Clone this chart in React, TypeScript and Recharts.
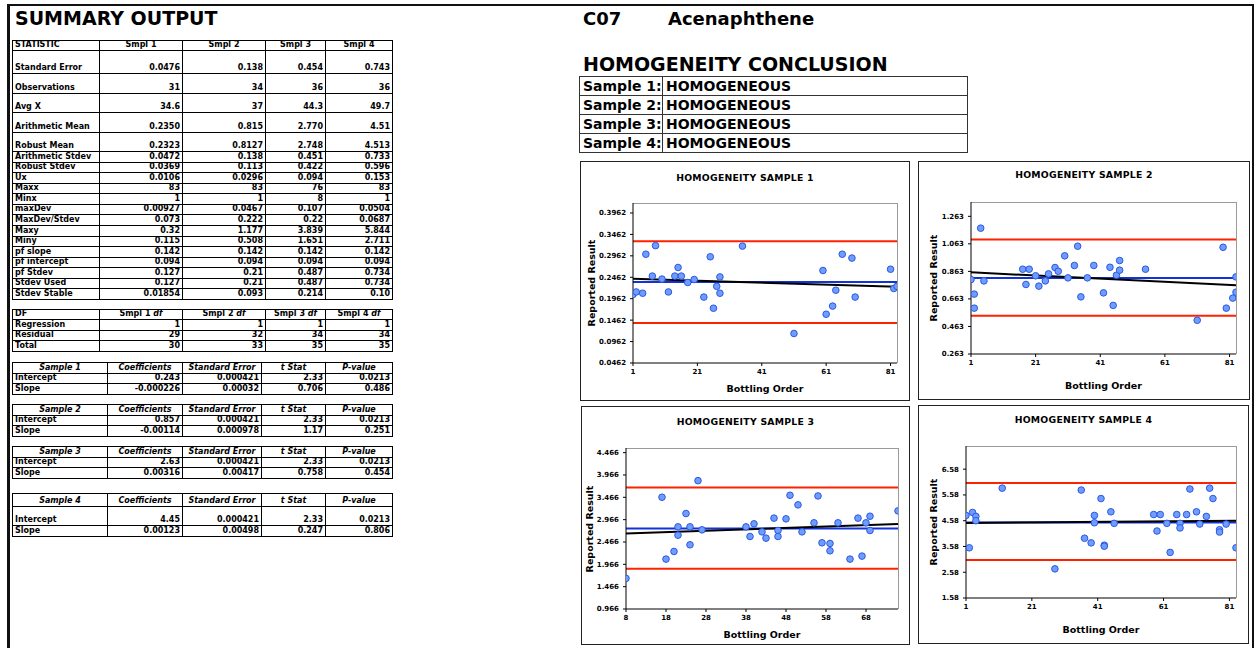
import React from 'react';
import { ScatterChart, Scatter, XAxis, YAxis, ReferenceLine } from 'recharts';

const FONT = 'Verdana, "DejaVu Sans", sans-serif';

// ---------- Sample 1 ----------
const s1X = [1, 2, 4, 5, 7, 8, 10, 12, 14, 15, 16, 18, 20, 23, 25, 26, 27, 28, 28, 35, 51, 60, 61, 63, 64, 66, 69, 70, 81, 82, 83];
const s1Y = [0.206, 0.212, 0.209, 0.3, 0.249, 0.32, 0.242, 0.212, 0.249, 0.269, 0.249, 0.234, 0.241, 0.2, 0.294, 0.174, 0.225, 0.247, 0.209, 0.319, 0.115, 0.262, 0.16, 0.179, 0.216, 0.3, 0.291, 0.2, 0.265, 0.22, 0.225];
const s1Limits = [0.1397, 0.3303];
const s1Mean = 0.235;
const s1Trend = [0.2428, 0.2242];
const s1XDomain = [1, 83];
const s1YDomain = [0.0462, 0.4195];
const s1XTicks = [1, 21, 41, 61, 81];
const s1YTicks = [0.0462, 0.0962, 0.1462, 0.1962, 0.2462, 0.2962, 0.3462, 0.3962];

// ---------- Sample 2 ----------
const s2X = [1, 2, 2, 4, 5, 17, 18, 19, 21, 22, 24, 25, 27, 28, 30, 31, 33, 34, 35, 37, 39, 42, 44, 45, 46, 47, 47, 55, 71, 79, 80, 82, 83, 83];
const s2Y = [0.804, 0.698, 0.596, 1.177, 0.794, 0.879, 0.768, 0.879, 0.831, 0.756, 0.794, 0.845, 0.891, 0.864, 0.976, 0.816, 0.906, 1.046, 0.678, 0.816, 0.906, 0.707, 0.893, 0.616, 0.835, 0.942, 0.872, 0.879, 0.508, 1.038, 0.596, 0.669, 0.823, 0.712];
const s2Limits = [0.541, 1.094];
const s2Mean = 0.815;
const s2Trend = [0.856, 0.762];
const s2XDomain = [1, 83];
const s2YDomain = [0.263, 1.367];
const s2XTicks = [1, 21, 41, 61, 81];
const s2YTicks = [0.263, 0.463, 0.663, 0.863, 1.063, 1.263];

// ---------- Sample 3 ----------
const s3X = [8, 17, 18, 20, 21, 21, 23, 24, 24, 26, 27, 38, 39, 40, 42, 43, 45, 46, 46, 48, 49, 51, 52, 55, 56, 57, 59, 59, 61, 64, 66, 67, 68, 69, 69, 76];
const s3Y = [1.651, 3.468, 2.083, 2.254, 2.619, 2.805, 3.103, 2.805, 2.403, 3.839, 2.738, 2.805, 2.589, 2.872, 2.693, 2.552, 3.0, 2.723, 2.589, 2.984, 3.512, 3.297, 2.693, 2.895, 3.497, 2.448, 2.433, 2.269, 2.895, 2.083, 3.0, 2.15, 2.895, 3.043, 2.723, 3.163];
const s3Limits = [1.867, 3.684];
const s3Mean = 2.77;
const s3Trend = [2.655, 2.87];
const s3XDomain = [8, 76];
const s3YDomain = [0.966, 4.57];
const s3XTicks = [8, 18, 28, 38, 48, 58, 68];
const s3YTicks = [0.966, 1.466, 1.966, 2.466, 2.966, 3.466, 3.966, 4.466];

// ---------- Sample 4 ----------
const s4X = [1, 2, 3, 4, 4, 12, 28, 36, 37, 39, 40, 40, 42, 43, 43, 45, 46, 58, 59, 60, 62, 63, 65, 66, 66, 68, 69, 71, 72, 74, 75, 76, 78, 78, 80, 83];
const s4Y = [4.785, 3.529, 4.9, 4.747, 4.58, 5.844, 2.711, 5.77, 3.9, 3.72, 4.785, 4.5, 5.44, 3.63, 3.59, 4.926, 4.477, 4.82, 4.18, 4.82, 4.477, 3.35, 4.82, 4.477, 4.3, 4.82, 5.81, 4.926, 4.45, 4.747, 5.844, 5.44, 4.23, 4.14, 4.45, 3.529];
const s4Limits = [3.054, 6.04];
const s4Mean = 4.515;
const s4Trend = [4.49, 4.58];
const s4XDomain = [1, 83];
const s4YDomain = [1.58, 7.48];
const s4XTicks = [1, 21, 41, 61, 81];
const s4YTicks = [1.58, 2.58, 3.58, 4.58, 5.58, 6.58];

// ---------- Summary tables ----------
const statHeader = ['STATISTIC', 'Smpl 1', 'Smpl 2', 'Smpl 3', 'Smpl 4'];
const statLabels = ['Standard Error', 'Observations', 'Avg X', 'Arithmetic Mean', 'Robust Mean', 'Arithmetic Stdev', 'Robust Stdev', 'Ux', 'Maxx', 'Minx', 'maxDev', 'MaxDev/Stdev', 'Maxy', 'Miny', 'pf slope', 'pf intercept', 'pf Stdev', 'Stdev Used', 'Stdev Stable'];
const stat1 = ['0.0476', '31', '34.6', '0.2350', '0.2323', '0.0472', '0.0369', '0.0106', '83', '1', '0.00927', '0.073', '0.32', '0.115', '0.142', '0.094', '0.127', '0.127', '0.01854'];
const stat2 = ['0.138', '34', '37', '0.815', '0.8127', '0.138', '0.113', '0.0296', '83', '1', '0.0467', '0.222', '1.177', '0.508', '0.142', '0.094', '0.21', '0.21', '0.093'];
const stat3 = ['0.454', '36', '44.3', '2.770', '2.748', '0.451', '0.422', '0.094', '76', '8', '0.107', '0.22', '3.839', '1.651', '0.142', '0.094', '0.487', '0.487', '0.214'];
const stat4 = ['0.743', '36', '49.7', '4.51', '4.513', '0.733', '0.596', '0.153', '83', '1', '0.0504', '0.0687', '5.844', '2.711', '0.142', '0.094', '0.734', '0.734', '0.10'];

const dfLabels = ['Regression', 'Residual', 'Total'];
const df1 = ['1', '29', '30'];
const df2 = ['1', '32', '33'];
const df3 = ['1', '34', '35'];
const df4 = ['1', '34', '35'];

const regHeader = ['Coefficients', 'Standard Error', 't Stat', 'P-value'];
const reg1Intercept = ['0.243', '0.000421', '2.33', '0.0213'];
const reg1Slope = ['-0.000226', '0.00032', '0.706', '0.486'];
const reg2Intercept = ['0.857', '0.000421', '2.33', '0.0213'];
const reg2Slope = ['-0.00114', '0.000978', '1.17', '0.251'];
const reg3Intercept = ['2.63', '0.000421', '2.33', '0.0213'];
const reg3Slope = ['0.00316', '0.00417', '0.758', '0.454'];
const reg4Intercept = ['4.45', '0.000421', '2.33', '0.0213'];
const reg4Slope = ['0.00123', '0.00498', '0.247', '0.806'];

const conclusionLabels = ['Sample 1:', 'Sample 2:', 'Sample 3:', 'Sample 4:'];
const conclusionValues = ['HOMOGENEOUS', 'HOMOGENEOUS', 'HOMOGENEOUS', 'HOMOGENEOUS'];

// ---------- generic cell grid ----------
type Cell = { t: React.ReactNode; align?: 'left' | 'center' | 'right'; italic?: boolean };
type Row = { h: number; cells: Cell[] };

function Grid({ cols, top, rows, fontSize = 8, vAlign = 'flex-end', pad = '0 2px 1px 2px', color = '#000' }: any) {
  const out: React.ReactNode[] = [];
  let y = top;
  rows.forEach((r: Row, ri: number) => {
    const y0 = Math.round(y);
    const y1 = Math.round(y + r.h);
    r.cells.forEach((c: Cell, ci: number) => {
      const x0 = cols[ci];
      const x1 = cols[ci + 1];
      out.push(
        <div
          key={ri + '-' + ci}
          style={{
            position: 'absolute',
            left: x0,
            top: y0,
            width: x1 - x0 + 1,
            height: y1 - y0 + 1,
            border: '1px solid ' + color,
            boxSizing: 'border-box',
            display: 'flex',
            alignItems: vAlign,
            justifyContent: c.align === 'left' ? 'flex-start' : c.align === 'center' ? 'center' : 'flex-end',
            padding: pad,
            fontFamily: FONT,
            fontWeight: 'bold',
            fontStyle: c.italic ? 'italic' : 'normal',
            fontSize,
            lineHeight: 1,
            whiteSpace: 'nowrap',
            overflow: 'hidden',
            color: '#000',
          }}
        >
          {c.t}
        </div>
      );
    });
    y += r.h;
  });
  return <>{out}</>;
}

const sumCols = [12, 99, 182, 265, 325, 392];
const regCols = [12, 107, 182, 261, 325, 392];

function summaryRows(): Row[] {
  const hs = [23, 20, 19, 20, 19];
  const rows: Row[] = [{ h: 10, cells: statHeader.map((t, i) => ({ t, align: i === 0 ? 'left' : 'center' })) }];
  statLabels.forEach((lab, i) => {
    rows.push({
      h: i < hs.length ? hs[i] : 10.57,
      cells: [{ t: lab, align: 'left' }, { t: stat1[i] }, { t: stat2[i] }, { t: stat3[i] }, { t: stat4[i] }],
    });
  });
  return rows;
}

function dfRows(): Row[] {
  const hdr = (n: number) => (
    <span>
      Smpl {n} <i>df</i>
    </span>
  );
  const rows: Row[] = [
    { h: 10, cells: [{ t: 'DF', align: 'left' }, { t: hdr(1), align: 'center' }, { t: hdr(2), align: 'center' }, { t: hdr(3), align: 'center' }, { t: hdr(4), align: 'center' }] },
  ];
  dfLabels.forEach((lab, i) => {
    rows.push({ h: 10.5, cells: [{ t: lab, align: 'left' }, { t: df1[i] }, { t: df2[i] }, { t: df3[i] }, { t: df4[i] }] });
  });
  return rows;
}

function regRows(name: string, inter: string[], slope: string[], hs: number[]): Row[] {
  return [
    { h: hs[0], cells: [{ t: name, align: 'center', italic: true }, ...regHeader.map((t) => ({ t, align: 'center' as const, italic: true }))] },
    { h: hs[1], cells: [{ t: 'Intercept', align: 'left' }, ...inter.map((t) => ({ t }))] },
    { h: hs[2], cells: [{ t: 'Slope', align: 'left' }, ...slope.map((t) => ({ t }))] },
  ];
}

// ---------- chart ----------
const Dot = (p: any) => {
  if (p.cx == null || p.cy == null) return null;
  return <circle cx={p.cx} cy={p.cy} r={3.3} fill="#6f9dff" stroke="#2b58e0" strokeWidth={1} />;
};

const absText = (x: number, y: number, text: string, size: number, extra: any = {}) => (
  <div
    style={{
      position: 'absolute',
      left: x,
      top: y,
      transform: 'translate(-50%, -50%)' + (extra.rotate ? ' rotate(-90deg)' : ''),
      fontFamily: FONT,
      fontWeight: 'bold',
      fontSize: size,
      lineHeight: 1,
      whiteSpace: 'nowrap',
      color: '#000',
      letterSpacing: extra.ls || 0,
    }}
  >
    {text}
  </div>
);

function HomChart({ title, xs, ys, limits, mean, trend, xDomain, yDomain, xTicks, yTicks, lay }: any) {
  const data = xs.map((x: number, i: number) => ({ x, y: ys[i] }));
  const [bl, bt, br, bb] = lay.box;
  const [pl, pt, pr, pb] = lay.plot;
  const W = br - bl;
  const H = bb - bt;
  const tickStyle = { fontSize: 7, fontWeight: 'bold', fill: '#000', fontFamily: FONT };
  return (
    <>
      <div style={{ position: 'absolute', left: bl, top: bt, width: W, height: H, border: '1px solid #222', boxSizing: 'border-box' }} />
      <div style={{ position: 'absolute', left: pl, top: pt, width: pr - pl + 1, height: pb - pt, borderTop: '1px solid #9a9a9a', borderRight: '1px solid #9a9a9a', boxSizing: 'border-box' }} />
      <div style={{ position: 'absolute', left: bl, top: bt }}>
        <ScatterChart width={W} height={H} margin={{ top: pt - bt, right: br - pr, bottom: 0, left: 0 }}>
          <XAxis
            type="number"
            dataKey="x"
            domain={xDomain}
            ticks={xTicks}
            allowDataOverflow
            interval={0}
            height={bb - pb}
            tickSize={3}
            tickMargin={3}
            tick={tickStyle}
            axisLine={{ stroke: '#000', strokeWidth: 1 }}
            tickLine={{ stroke: '#000' }}
          />
          <YAxis
            type="number"
            dataKey="y"
            domain={yDomain}
            ticks={yTicks}
            allowDataOverflow
            interval={0}
            width={pl - bl}
            tickSize={3}
            tickMargin={4}
            tick={tickStyle}
            tickFormatter={(v: number) => String(v)}
            axisLine={{ stroke: '#000', strokeWidth: 1 }}
            tickLine={{ stroke: '#000' }}
          />
          <ReferenceLine y={limits[0]} stroke="#ff2200" strokeWidth={2} />
          <ReferenceLine y={limits[1]} stroke="#ff2200" strokeWidth={2} />
          <ReferenceLine y={mean} stroke="#1233d6" strokeWidth={2} />
          <Scatter data={data} shape={Dot} isAnimationActive={false} />
          <ReferenceLine
            segment={[
              { x: xDomain[0], y: trend[0] },
              { x: xDomain[1], y: trend[1] },
            ]}
            stroke="#000"
            strokeWidth={2}
          />
        </ScatterChart>
      </div>
      {absText((bl + br) / 2, lay.titleY, title, 9.3, { ls: 0.25 })}
      {absText(lay.rrX, (pt + pb) / 2, 'Reported Result', 9.5, { rotate: true })}
      {absText((pl + pr) / 2, lay.boY, 'Bottling Order', 9.5)}
    </>
  );
}

const lay1 = { box: [580, 161, 910, 401], plot: [633, 203, 897, 363], rrX: 592, boY: 389, titleY: 178 };
const lay2 = { box: [918, 161, 1250, 400], plot: [971, 202, 1236, 354], rrX: 934, boY: 386, titleY: 175 };
const lay3 = { box: [581, 406, 910, 645], plot: [626, 448, 898, 609], rrX: 590, boY: 635, titleY: 422 };
const lay4 = { box: [918, 405, 1249, 644], plot: [966, 446, 1236, 598], rrX: 934, boY: 630, titleY: 420 };

const leftText = (x: number, y: number, text: string, size: number) => (
  <div style={{ position: 'absolute', left: x, top: y, transform: 'translateY(-50%)', fontFamily: FONT, fontWeight: 'bold', fontSize: size, lineHeight: 1, whiteSpace: 'nowrap', color: '#000' }}>
    {text}
  </div>
);

export default function App() {
  const concRows: Row[] = conclusionLabels.map((l, i) => ({
    h: 19,
    cells: [{ t: l, align: 'left' }, { t: conclusionValues[i], align: 'left' }],
  }));
  return (
    <div style={{ position: 'fixed', left: 0, top: 0, width: 1257, height: 648, background: '#fff', overflow: 'hidden' }}>
      <div style={{ position: 'absolute', left: 7, top: 4, width: 1247, height: 700, borderTop: '2px solid #111', borderLeft: '3px solid #111', borderRight: '2px solid #111', boxSizing: 'border-box' }} />

      {leftText(15, 18, 'SUMMARY OUTPUT', 19)}
      <Grid cols={sumCols} top={40} rows={summaryRows()} />
      <Grid cols={sumCols} top={309} rows={dfRows()} />
      <Grid cols={regCols} top={362} rows={regRows('Sample 1', reg1Intercept, reg1Slope, [10.5, 10.5, 10.5])} />
      <Grid cols={regCols} top={404} rows={regRows('Sample 2', reg2Intercept, reg2Slope, [10.5, 10.5, 10.5])} />
      <Grid cols={regCols} top={446} rows={regRows('Sample 3', reg3Intercept, reg3Slope, [10.5, 10.5, 10.5])} />
      <Grid cols={regCols} top={493} rows={regRows('Sample 4', reg4Intercept, reg4Slope, [13, 19, 10.5])} />

      {leftText(583, 19, 'C07', 18)}
      {leftText(668, 19, 'Acenaphthene', 18)}
      {leftText(583, 64, 'HOMOGENEITY CONCLUSION', 19)}
      <Grid cols={[579, 662, 967]} top={76} rows={concRows} fontSize={14} vAlign="center" pad="0 3px" color="#333" />

      <HomChart title="HOMOGENEITY SAMPLE 1" xs={s1X} ys={s1Y} limits={s1Limits} mean={s1Mean} trend={s1Trend} xDomain={s1XDomain} yDomain={s1YDomain} xTicks={s1XTicks} yTicks={s1YTicks} lay={lay1} />
      <HomChart title="HOMOGENEITY SAMPLE 2" xs={s2X} ys={s2Y} limits={s2Limits} mean={s2Mean} trend={s2Trend} xDomain={s2XDomain} yDomain={s2YDomain} xTicks={s2XTicks} yTicks={s2YTicks} lay={lay2} />
      <HomChart title="HOMOGENEITY SAMPLE 3" xs={s3X} ys={s3Y} limits={s3Limits} mean={s3Mean} trend={s3Trend} xDomain={s3XDomain} yDomain={s3YDomain} xTicks={s3XTicks} yTicks={s3YTicks} lay={lay3} />
      <HomChart title="HOMOGENEITY SAMPLE 4" xs={s4X} ys={s4Y} limits={s4Limits} mean={s4Mean} trend={s4Trend} xDomain={s4XDomain} yDomain={s4YDomain} xTicks={s4XTicks} yTicks={s4YTicks} lay={lay4} />
    </div>
  );
}
